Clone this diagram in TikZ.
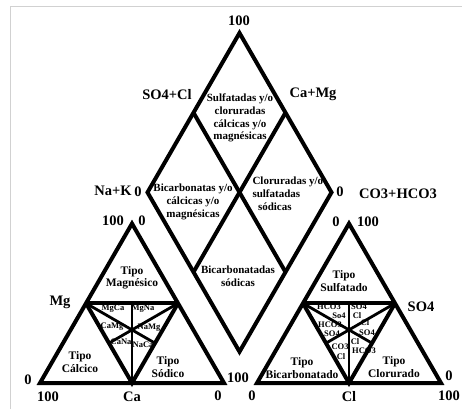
\documentclass[tikz,border=0pt]{standalone}
\usepackage{fontspec}
\setmainfont{Liberation Serif}
\usetikzlibrary{calc}
\tikzset{
  side/.style={line width=4pt},
  part/.style={line width=2.8pt},
  big/.style={font=\fontsize{14.5}{15}\selectfont\bfseries},
  zone/.style={font=\fontsize{11}{12.8}\selectfont\bfseries, align=center},
  tipo/.style={font=\fontsize{11.5}{12.5}\selectfont\bfseries, align=center},
  small/.style={font=\fontsize{8.5}{8.5}\selectfont\bfseries, inner sep=0pt},
}

\begin{document}
\begin{tikzpicture}[x=1pt,y=-1pt]

  \useasboundingbox (0,0) rectangle (462,409);
  \draw[black!18, line width=1pt] (10,409) -- (10,7) -- (462,7);

  % diamond
  \coordinate (Dt) at (239.5,33);
  \coordinate (Dl) at (147.5,192.4);
  \coordinate (Dr) at (331.5,192.4);
  \coordinate (Db) at (239.5,351.7);
  \coordinate (Dtl) at ($(Dt)!0.5!(Dl)$);
  \coordinate (Dtr) at ($(Dt)!0.5!(Dr)$);
  \coordinate (Dbl) at ($(Db)!0.5!(Dl)$);
  \coordinate (Dbr) at ($(Db)!0.5!(Dr)$);

  % cation triangle
  \coordinate (La) at (40,383);
  \coordinate (Lb) at (224,383);
  \coordinate (Lt) at (132,223.6);
  \coordinate (Lc) at (132,383);
  \coordinate (Lml) at ($(La)!0.5!(Lt)$);
  \coordinate (Lmr) at ($(Lb)!0.5!(Lt)$);
  \coordinate (Lmt) at ($(Lml)!0.5!(Lmr)$);
  \coordinate (Lql) at ($(Lml)!0.5!(Lc)$);
  \coordinate (Lqr) at ($(Lmr)!0.5!(Lc)$);

  % anion triangle
  \coordinate (Ra) at (257,383);
  \coordinate (Rb) at (441,383);
  \coordinate (Rt) at (349,223.6);
  \coordinate (Rc) at (349,383);
  \coordinate (Rml) at ($(Ra)!0.5!(Rt)$);
  \coordinate (Rmr) at ($(Rb)!0.5!(Rt)$);
  \coordinate (Rmt) at ($(Rml)!0.5!(Rmr)$);
  \coordinate (Rql) at ($(Rml)!0.5!(Rc)$);
  \coordinate (Rqr) at ($(Rmr)!0.5!(Rc)$);

  \draw[side] (Dt) -- (Dl) -- (Db) -- (Dr) -- cycle;
  \draw[side] (Dtl) -- (Dbr);
  \draw[side] (Dtr) -- (Dbl);

  \draw[side] (La) -- (Lb) -- (Lt) -- cycle;
  \draw[side] (Lml) -- (Lmr);
  \draw[side] (Lml) -- (Lc) -- (Lmr);
  \draw[part] (Lmt) -- (Lc);
  \draw[part] (Lml) -- (Lqr);
  \draw[part] (Lmr) -- (Lql);

  \draw[side] (Ra) -- (Rb) -- (Rt) -- cycle;
  \draw[side] (Rml) -- (Rmr);
  \draw[side] (Rml) -- (Rc) -- (Rmr);
  \draw[part] (Rmt) -- (Rc);
  \draw[part] (Rml) -- (Rqr);
  \draw[part] (Rmr) -- (Rql);

  % diamond labels
  \node[big] (d100) at (239,21) {100};
  \node[big] (dSOCl) at (167,95) {SO4+Cl};
  \node[big] (dCaMg) at (313,94) {Ca+Mg};
  \node[big] (dNaK) at (113,191) {Na+K};
  \node[big] (dl0) at (138,192) {0};
  \node[big] (dr0) at (340,192) {0};
  \node[big] (dCO) at (398,194) {CO3+HCO3};

  \node[zone] (zTop) at (240,118) {Sulfatadas y/o\\cloruradas\\cálcicas y/o\\magnésicas};
  \node[zone] (zLeft) at (193,202) {Bicarbonatas y/o\\cálcicas y/o\\magnésicas};
  \node[zone, align=left, anchor=west] (zRight) at (249,194) {Cloruradas y/o\\sulfatadas\\\ \ sódicas};
  \node[zone] (zBot) at (238,276) {Bicarbonatadas\\sódicas};

  % cation labels
  \node[big] (l100t) at (113,221) {100};
  \node[big] (l0t) at (142,221) {0};
  \node[big] (lMg) at (60,302) {Mg};
  \node[big] (l0l) at (28,380) {0};
  \node[big] (l100l) at (48,397) {100};
  \node[big] (lCa) at (132,397) {Ca};
  \node[big] (l0r) at (218,396) {0};
  \node[big] (l100r) at (238,378) {100};

  \node[tipo] (tMg) at (132,278) {Tipo\\Magnésico};
  \node[tipo] (tCa) at (80,362) {Tipo\\Cálcico};
  \node[tipo] (tNa) at (168,367) {Tipo\\Sódico};

  \node[small] (sMgCa) at (113,309) {MgCa};
  \node[small] (sMgNa) at (143,309) {MgNa};
  \node[small] (sCaMg) at (112,327) {CaMg};
  \node[small] (sNaMg) at (149,328) {NaMg};
  \node[small] (sCaNa) at (121,342) {CaNa};
  \node[small] (sNaCa) at (143,345) {NaCa};

  % anion labels
  \node[big] (r0t) at (336,222) {0};
  \node[big] (r100t) at (368,222) {100};
  \node[big] (rSO) at (421,307) {SO4};
  \node[big] (r0l) at (252,396) {0};
  \node[big] (rCl) at (349,397) {Cl};
  \node[big] (r100r) at (449,396) {100};
  \node[big] (r0r) at (449,376) {0};

  \node[tipo] (tSO) at (344,281) {Tipo\\Sulfatado};
  \node[tipo] (tHCO) at (302,368) {Tipo\\Bicarbonatado};
  \node[tipo] (tCl) at (394,367) {Tipo\\Clorurado};

  \node[small] (sA1) at (329,307) {HCO3};
  \node[small] (sA2) at (339,316) {So4};
  \node[small] (sA3) at (359,307) {SO4};
  \node[small] (sA4) at (357,316) {Cl};
  \node[small] (sA5) at (330,325) {HCO3};
  \node[small] (sA6) at (332,334) {SO4};
  \node[small] (sA7) at (365,323) {Cl};
  \node[small] (sA8) at (367,333) {SO4};
  \node[small] (sA9) at (340,347) {CO3};
  \node[small] (sA10) at (341,357) {Cl};
  \node[small] (sA11) at (355,342) {Cl};
  \node[small] (sA12) at (364,351) {HCO3};

\end{tikzpicture}
\end{document}
